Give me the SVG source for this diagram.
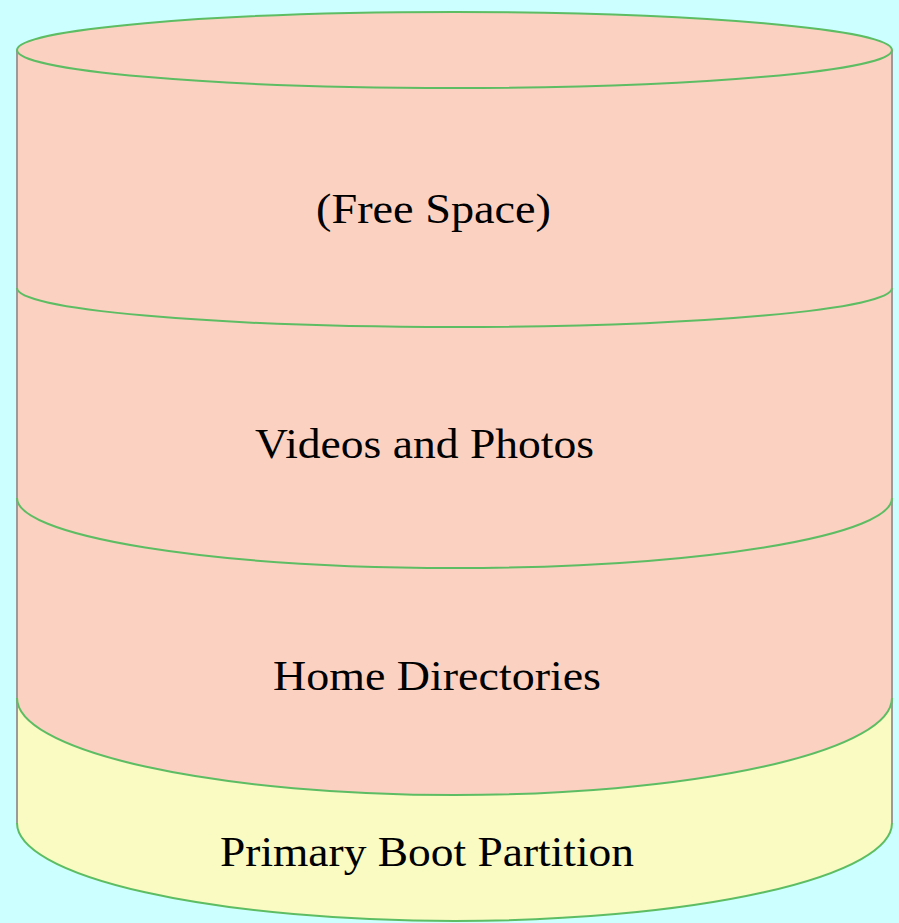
<svg xmlns="http://www.w3.org/2000/svg" width="899" height="923" viewBox="0 0 899 923">
  <style>
    .bg { fill: #ccffff; }
    .pink { fill: #fbd1c1; }
    .yellow { fill: #fafac3; }
    .rim { fill: none; stroke: #5dbd63; stroke-width: 2; }
    .side { fill: none; stroke: #9a9a9a; stroke-width: 2; }
    .label { font-family: "Liberation Serif", "Times New Roman", serif; font-size: 42px; fill: #000000; text-anchor: middle; }
  </style>
  <rect class="bg" x="0" y="0" width="899" height="923"/>

  <!-- cylinder body: upper partitions -->
  <g id="free-space">
    <path class="pink" d="M17,50 A437.5,38 0 0 1 892,50 L892,288 A437.5,39 0 0 1 17,288 Z"/>
    <text class="label" x="433.5" y="223" textLength="235" lengthAdjust="spacingAndGlyphs">(Free Space)</text>
  </g>
  <g id="videos-photos">
    <path class="pink" d="M17,288 A437.5,39 0 0 0 892,288 L892,498 A437.5,70 0 0 1 17,498 Z"/>
    <text class="label" x="424.5" y="458" textLength="339" lengthAdjust="spacingAndGlyphs">Videos and Photos</text>
  </g>
  <g id="home-directories">
    <path class="pink" d="M17,498 A437.5,70 0 0 0 892,498 L892,698 A437.5,97 0 0 1 17,698 Z"/>
    <text class="label" x="437" y="690" textLength="328" lengthAdjust="spacingAndGlyphs">Home Directories</text>
  </g>
  <g id="boot-partition">
    <path class="yellow" d="M17,698 A437.5,97 0 0 0 892,698 L892,823 A437.5,98 0 0 1 17,823 Z"/>
    <text class="label" x="427" y="866" textLength="414" lengthAdjust="spacingAndGlyphs">Primary Boot Partition</text>
  </g>

  <!-- outlines -->
  <g id="outlines">
    <line class="side" x1="17" y1="50" x2="17" y2="823"/>
    <line class="side" x1="892" y1="50" x2="892" y2="823"/>
    <ellipse class="rim" cx="454.5" cy="50" rx="437.5" ry="38"/>
    <path class="rim" d="M17,288 A437.5,39 0 0 0 892,288"/>
    <path class="rim" d="M17,498 A437.5,70 0 0 0 892,498"/>
    <path class="rim" d="M17,698 A437.5,97 0 0 0 892,698"/>
    <path class="rim" d="M17,823 A437.5,98 0 0 0 892,823"/>
  </g>
</svg>
